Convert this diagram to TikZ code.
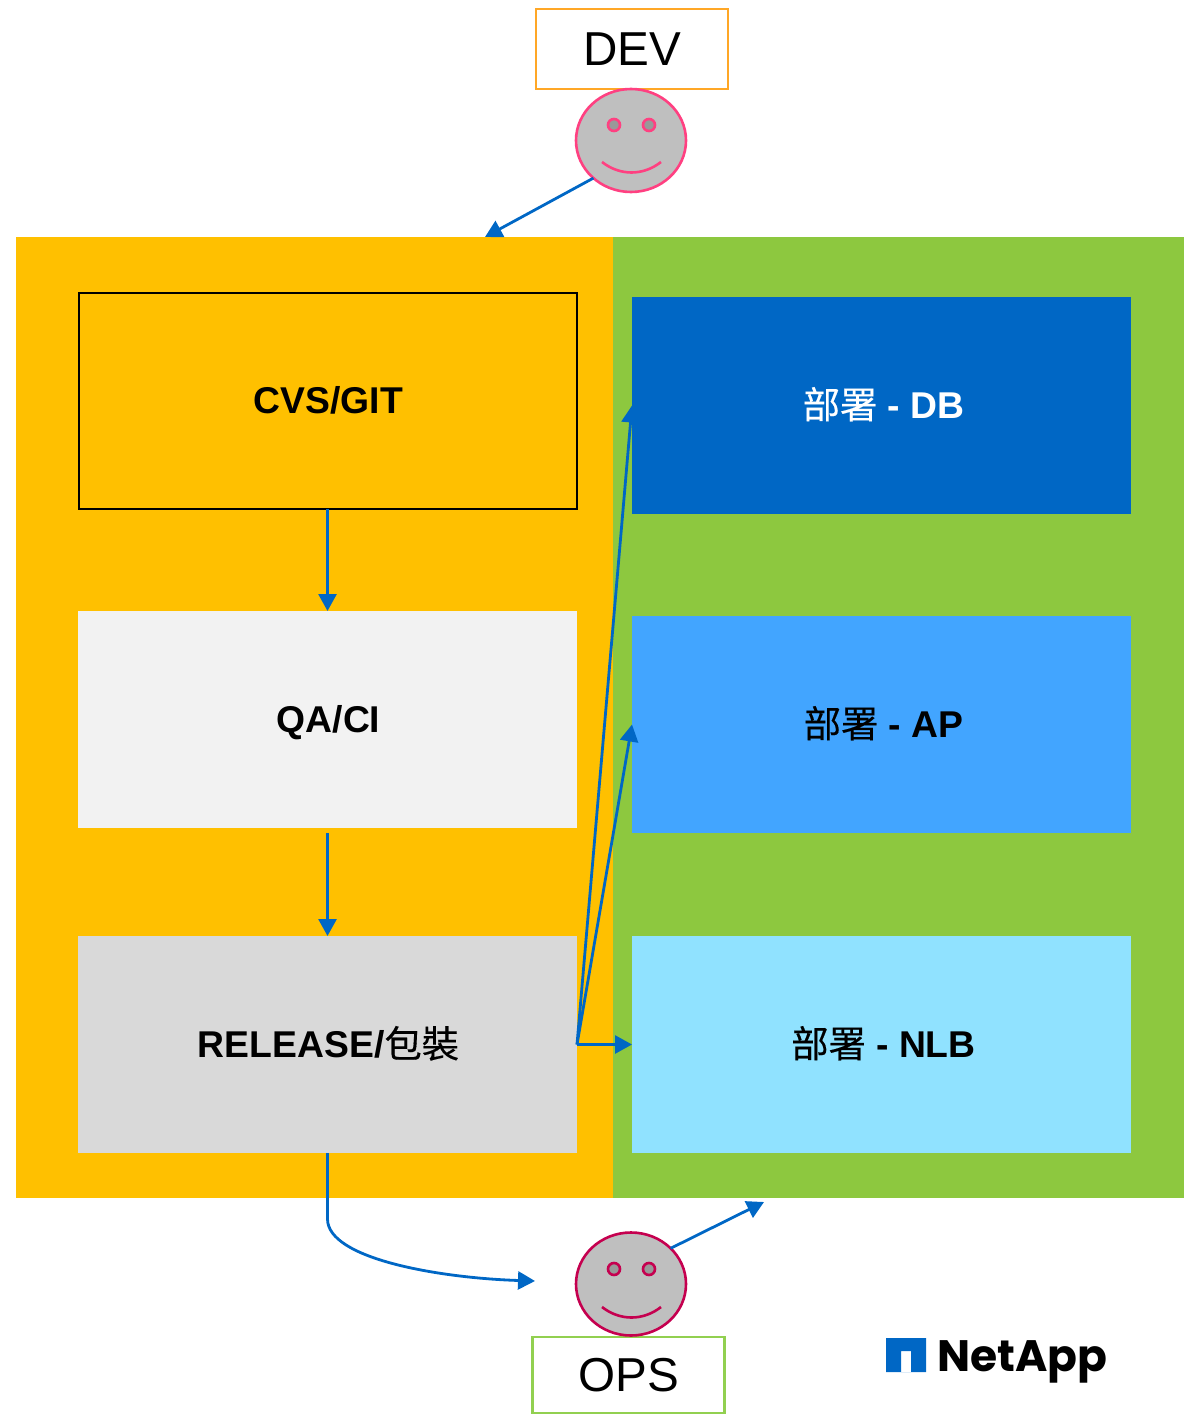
\documentclass[tikz,border=0pt]{standalone}
\usepackage{fontspec}
\setmainfont{Liberation Sans}
\newfontfamily\cjk[FakeBold=0.35]{Noto Sans CJK TC}
\newfontfamily\brandfont{Poppins}
\usetikzlibrary{arrows.meta,shapes.geometric}
\definecolor{arrowblue}{HTML}{0067C5}
\definecolor{panelorange}{HTML}{FFC000}
\definecolor{panelgreen}{HTML}{8DC83F}
\definecolor{facegray}{HTML}{BFBFBF}
\definecolor{eyegray}{HTML}{999999}
\definecolor{devpink}{HTML}{FF4081}
\definecolor{opsred}{HTML}{C5004F}
\definecolor{devorange}{HTML}{FFA726}
\definecolor{opsgreen}{HTML}{92D050}
\definecolor{apblue}{HTML}{42A5FF}
\definecolor{nlbblue}{HTML}{90E2FF}
\newcommand{\zh}[1]{{\cjk\mdseries #1}}
\tikzset{
  panel/.style={inner sep=0pt,outer sep=0pt,draw=none},
  stagebox/.style={inner sep=0pt,outer sep=0pt,minimum width=499pt,minimum height=217pt,
    text height=30pt,text depth=4pt,
    font=\fontsize{37.3}{44}\selectfont\bfseries,text=black},
  rolebox/.style={fill=white,line width=2.2pt,inner sep=0pt,outer sep=0pt,minimum width=192pt,
    font=\fontsize{47.6}{56}\selectfont},
  face/.style={ellipse,fill=facegray,line width=2.6pt,inner sep=0pt,outer sep=0pt,
    minimum width=110pt,minimum height=103pt},
  eye/.style={circle,fill=eyegray,line width=2.6pt,inner sep=0pt,outer sep=0pt,minimum size=12pt},
  flow/.style={draw=arrowblue,line width=2.8pt,-{Triangle[length=17pt,width=18pt]}},
}
\begin{document}
\begin{tikzpicture}[x=1pt,y=-1pt]
\useasboundingbox (0,0) rectangle (1184,1415);
% panels
\node[panel,fill=panelorange,minimum width=597pt,minimum height=961pt] (left) at (314.5,717.5) {};
\node[panel,fill=panelgreen,minimum width=571pt,minimum height=961pt] (right) at (898.5,717.5) {};
% pipeline
\node[stagebox,draw=black,line width=2pt,minimum width=498pt,minimum height=216pt] (cvs) at (327.5,400.5) {\hspace*{2pt}CVS/GIT};
\node[stagebox,fill=black!5] (qa) at (327.5,719.5) {\hspace*{2pt}QA/CI};
\node[stagebox,fill=black!15] (rel) at (327.5,1044.5) {\hspace*{2pt}RELEASE/\zh{包裝}};
% deploy boxes
\node[stagebox,fill=arrowblue,text=white] (db) at (881.5,405.5) {\hspace*{4pt}\zh{部署} - DB};
\node[stagebox,fill=apblue] (ap) at (881.5,724.5) {\hspace*{4pt}\zh{部署} - AP};
\node[stagebox,fill=nlbblue] (nlb) at (881.5,1044.5) {\hspace*{4pt}\zh{部署} - NLB};
% DEV
\node[rolebox,draw=devorange,minimum height=80pt,text height=36pt,text depth=2pt] (dev) at (632,49) {DEV};
\node[face,draw=devpink] (devface) at (631,140.5) {};
\node[eye,draw=devpink] (deveyel) at (614,125) {};
\node[eye,draw=devpink] (deveyer) at (649,125) {};
\draw[devpink,line width=2.6pt] (602,162) .. controls (620,176) and (643,176) .. (661,162);
% OPS
\node[rolebox,draw=opsgreen,minimum height=76pt] (ops) at (628.5,1375) {OPS};
\node[face,draw=opsred] (opsface) at (631,1284) {};
\node[eye,draw=opsred] (opseyel) at (614,1269) {};
\node[eye,draw=opsred] (opseyer) at (649,1269) {};
\draw[opsred,line width=2.6pt] (602,1307) .. controls (620,1321) and (643,1321) .. (661,1307);
% free ends
\coordinate (devend) at (485,237);
\coordinate (opsend) at (764,1202);
\coordinate (opsin) at (535,1281);
% connectors
\draw[flow] (devface.225) -- (devend);
\draw[flow] (cvs.south) -- (qa.north);
\draw[flow,shorten <=5pt] (qa.south) -- (rel.north);
\draw[flow] (rel.east) -- (db.west);
\draw[flow] (rel.east) -- (ap.west);
\draw[flow] (rel.east) -- (nlb.west);
\draw[flow] (rel.south) -- ++(0,66) .. controls ++(0,40) and (440,1278) .. (opsin);
\draw[flow] (opsface.42) -- (opsend);
% logo
\fill[arrowblue,even odd rule] (886,1338) rectangle (926,1372) (901,1351) rectangle (911,1372);
\node[inner sep=0pt,anchor=base west,font=\fontsize{44}{50}\brandfont\bfseries] (brand) at (937,1371) {NetApp};
\end{tikzpicture}
\end{document}
